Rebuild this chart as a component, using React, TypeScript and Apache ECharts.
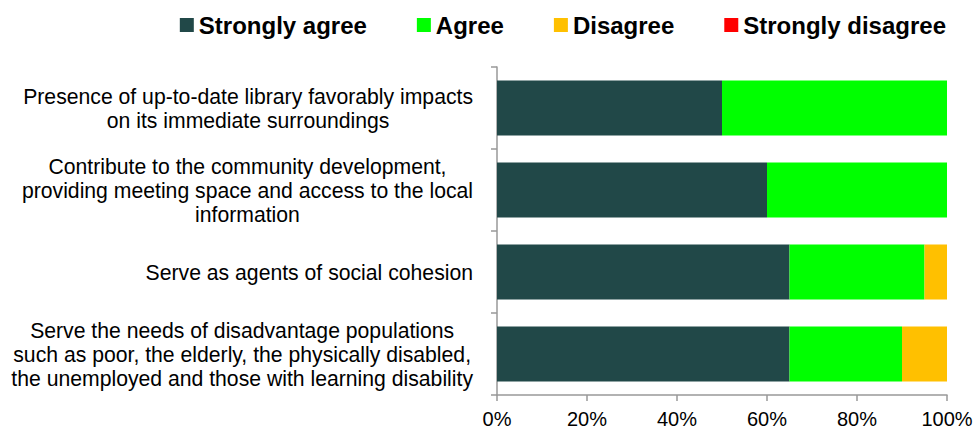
import React, { useEffect, useRef } from "react";
import * as echarts from "echarts";

const categories = [
  "Presence of up-to-date library favorably impacts\non its immediate surroundings",
  "Contribute to the community development,\nproviding meeting space and access to the local\ninformation",
  "Serve as agents of social cohesion",
  "Serve the needs of disadvantage populations\nsuch as poor, the elderly, the physically disabled,\nthe unemployed and those with learning disability",
];

const seriesNames = ["Strongly agree", "Agree", "Disagree", "Strongly disagree"];
const stronglyAgree = [50, 60, 65, 65];
const agree = [50, 40, 30, 25];
const disagree = [0, 0, 5, 10];
const stronglyDisagree = [0, 0, 0, 0];
const colors = ["#214848", "#00FF00", "#FFC000", "#FF0000"];
const xTicks = [0, 20, 40, 60, 80, 100];

const FONT = "'Liberation Sans', Arial, sans-serif";

export default function App() {
  const ref = useRef<HTMLDivElement>(null);
  useEffect(() => {
    if (!ref.current) return;
    const chart = echarts.init(ref.current, undefined, { renderer: "svg" });
    const values = [stronglyAgree, agree, disagree, stronglyDisagree];
    chart.setOption({
      animation: false,
      textStyle: { fontFamily: FONT },
      legend: {
        top: 8,
        right: 25,
        itemWidth: 14,
        itemHeight: 14,
        itemGap: 50,
        icon: "rect",
        textStyle: { fontFamily: FONT, fontSize: 24, fontWeight: "bold", color: "#000" },
        data: seriesNames,
      },
      grid: { left: 497, right: 29, top: 67, bottom: 45, containLabel: false },
      xAxis: {
        type: "value",
        min: xTicks[0],
        max: xTicks[xTicks.length - 1],
        interval: 20,
        splitLine: { show: false },
        axisLine: { show: true, lineStyle: { color: "#999999", width: 1.5 } },
        axisTick: { show: true, length: 6, lineStyle: { color: "#999999", width: 1.5 } },
        axisLabel: {
          formatter: "{value}%",
          fontFamily: FONT,
          fontSize: 20,
          color: "#000",
          margin: 14,
        },
      },
      yAxis: {
        type: "category",
        inverse: true,
        data: categories,
        axisLine: { show: true, lineStyle: { color: "#999999", width: 1.5 } },
        axisTick: { show: true, length: 6, lineStyle: { color: "#999999", width: 1.5 } },
        axisLabel: {
          align: "right",
          margin: 24,
          formatter: (v: string) =>
            v
              .split("\n")
              .map((l) => `{c|${l}}`)
              .join("\n"),
          rich: {
            c: {
              align: "center",
              fontFamily: FONT,
              fontSize: 21.2,
              lineHeight: 24,
              color: "#000",
            },
          },
        },
      },
      series: seriesNames.map((name, i) => ({
        name,
        type: "bar",
        stack: "total",
        barWidth: 55,
        itemStyle: { color: colors[i] },
        data: values[i],
      })),
    });
    return () => chart.dispose();
  }, []);
  return <div ref={ref} style={{ width: 976, height: 440, position: "absolute", left: 0, top: 0 }} />;
}
